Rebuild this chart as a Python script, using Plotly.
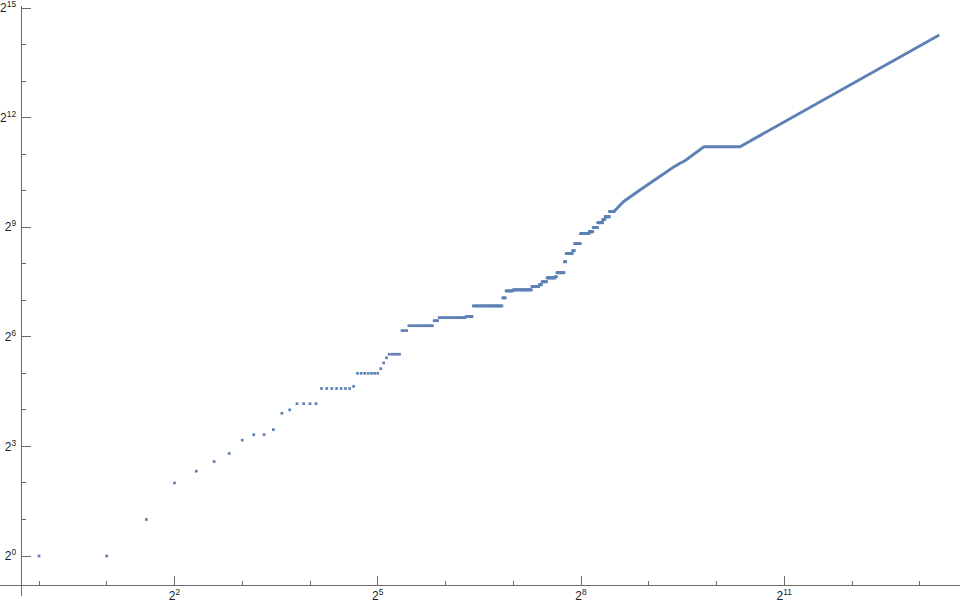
import math
import plotly.graph_objects as go

# ---- data (n, a(n)) ----
# runs of equal values: first n, last n, value
run_first = [1, 2, 3, 4, 5, 6, 7, 8, 9, 11, 12, 13, 14, 18, 25, 26, 33, 34, 35, 36,
             41, 44, 57, 60, 79, 85, 115, 119, 128, 155, 167, 172, 181, 197, 200,
             216, 220, 235, 240, 255, 279, 290, 304, 320, 328, 343]
run_last = [1, 2, 3, 4, 5, 6, 7, 8, 10, 11, 12, 13, 17, 24, 25, 32, 33, 34, 35, 40,
            43, 56, 59, 78, 84, 114, 118, 127, 154, 166, 171, 180, 196, 199, 215,
            219, 234, 239, 254, 278, 289, 303, 319, 327, 342, 358]
run_value = [1, 1, 2, 4, 5, 6, 7, 9, 10, 11, 15, 16, 18, 24, 25, 32, 35, 39, 43, 46,
             72, 79, 87, 92, 94, 115, 134, 153, 156, 166, 172, 182, 196, 200, 216,
             266, 310, 328, 375, 453, 470, 508, 558, 591, 625, 688]

# dense part (points merge into a line): vertices
dense_n = [358, 395, 468, 555, 658, 705, 742, 894, 903, 1302, 10000]
dense_a = [688, 831, 1038, 1295, 1596, 1722, 1808, 2333, 2360, 2360, 19650]

# ticks
x_major = [4, 32, 256, 2048]
x_minor = [1, 2, 8, 16, 64, 128, 512, 1024, 4096, 8192]
y_major = [1, 8, 64, 512, 4096, 32768]
y_minor = [2, 4, 16, 32, 128, 256, 1024, 2048, 8192, 16384]


def label(v):
    return "2<sup>%d</sup>" % round(math.log2(v))


xs, ys = [], []
for f, l, v in zip(run_first, run_last, run_value):
    for n in range(f, l + 1):
        xs.append(n)
        ys.append(v)

COLOR = "#5E81B5"
AXIS = "#6b6b6b"
L2 = math.log10(2)

fig = go.Figure()
fig.add_trace(go.Scatter(x=dense_n, y=dense_a, mode="lines",
                         line=dict(color=COLOR, width=2.9), hoverinfo="skip"))
fig.add_trace(go.Scatter(x=xs, y=ys, mode="markers",
                         marker=dict(color=COLOR, size=2.7, symbol="square",
                                     line=dict(width=0)), hoverinfo="skip"))

common = dict(showgrid=False, zeroline=False, showline=True, linecolor=AXIS,
              linewidth=1, ticks="inside", ticklen=9, tickwidth=1, tickcolor=AXIS,
              anchor="free", automargin=False, ticklabeloverflow="allow",
              tickfont=dict(family="Liberation Sans, Arial, sans-serif", size=12,
                            color="#222222"))

fig.update_layout(
    width=960, height=605,
    margin=dict(l=0, r=0, t=0, b=0),
    paper_bgcolor="white", plot_bgcolor="white",
    showlegend=False,
    xaxis=dict(type="log", range=[-0.5756 * L2, 13.594 * L2], domain=[0, 1],
               position=20 / 605, side="bottom",
               tickmode="array", tickvals=x_major,
               ticktext=[label(v) for v in x_major],
               minor=dict(tickmode="array", tickvals=x_minor, ticks="inside",
                          ticklen=4, tickwidth=1, tickcolor=AXIS),
               **common),
    yaxis=dict(type="log", range=[-1.095 * L2, 15.056 * L2],
               domain=[9 / 605, 599 / 605],
               position=20.5 / 960, side="left", ticklabelstandoff=2,
               tickmode="array", tickvals=y_major,
               ticktext=[label(v) for v in y_major],
               minor=dict(tickmode="array", tickvals=y_minor, ticks="inside",
                          ticklen=4, tickwidth=1, tickcolor=AXIS),
               **common),
)

fig.write_html("out.html", config={"displayModeBar": False},
               post_script="document.body.style.margin='0';"
                           "document.body.style.overflow='hidden';")
